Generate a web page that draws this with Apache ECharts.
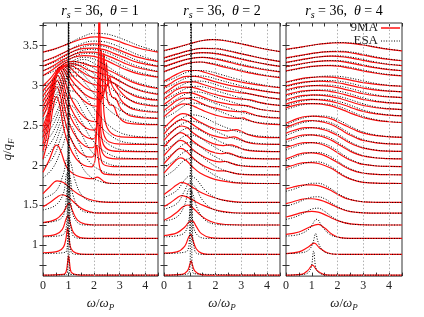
<!DOCTYPE html>
<html><head><meta charset="utf-8">
<script src="https://cdn.jsdelivr.net/npm/echarts@6/dist/echarts.min.js"></script>
<style>html,body{margin:0;padding:0;background:#fff}#c{width:424px;height:317px}</style>
</head><body><div id="c"></div>
<script>
// q/qF baselines (one spectrum per q)
const Q = [0.627,0.887,1.086,1.254,1.402,1.536,1.773,1.881,1.983,2.080,2.172,2.261,2.346,2.508,2.585,2.660,2.733,2.804,2.873,2.941,3.072,3.135,3.197,3.258,3.376];
// shared omega grid for curves given as plain value lists
const GX = [0,0.25,0.5,0.75,1,1.25,1.5,1.75,2,2.25,2.5,2.75,3,3.5,4,4.5];
const THETA = ['1','2','4'];
const X_LABELS = [0,1,2,3,4];
const X_TICKS = [0,0.5,1,1.5,2,2.5,3,3.5,4,4.5];
const Y_LABELS = [1,1.5,2,2.5,3,3.5];
const Y_TICKS = [0.75,1,1.25,1.5,1.75,2,2.25,2.5,2.75,3,3.25,3.5,3.75];
const GRID_X = [2,3,4];

// ---------- panel 1 : theta = 1 ----------
const P1_9MA = [
[[0,0],[0.8,0.01],[0.9,0.04],[0.96,0.15],[1.0,0.24],[1.04,0.15],[1.1,0.04],[1.25,0.01],[1.5,0],[4.5,0]],
[[0,0.02],[0.6,0.04],[0.8,0.09],[0.9,0.2],[0.96,0.33],[1.02,0.2],[1.1,0.07],[1.3,0.015],[1.7,0],[4.5,0]],
[[0,0.03],[0.5,0.05],[0.75,0.11],[0.9,0.24],[0.98,0.29],[1.06,0.2],[1.2,0.07],[1.45,0.01],[1.8,0],[4.5,0]],
[[0,0.03],[0.5,0.07],[0.8,0.16],[0.95,0.25],[1.03,0.27],[1.15,0.18],[1.35,0.06],[1.65,0.01],[2,0],[4.5,0]],
[[0,0.08],[0.3,0.14],[0.55,0.2],[0.75,0.23],[0.95,0.21],[1.2,0.14],[1.5,0.06],[1.8,0.02],[2.2,0],[4.5,0]],
[[0,0.11],[0.25,0.19],[0.55,0.27],[0.8,0.25],[1.1,0.17],[1.4,0.1],[1.8,0.04],[2.2,0.01],[2.6,0],[4.5,0]],
[[0,0.14],[0.25,0.3],[0.45,0.46],[0.55,0.48],[0.7,0.4],[0.85,0.26],[1.0,0.17],[1.3,0.1],[1.7,0.065],[1.95,0.06],[2.12,0.08],[2.25,0.06],[2.4,0.02],[2.6,0.003],[3,0],[4.5,0]],
[[0,0.2],[0.2,0.45],[0.4,0.85],[0.52,0.98],[0.65,0.88],[0.8,0.6],[1.0,0.38],[1.3,0.2],[1.6,0.12],[1.9,0.1],[2.02,0.16],[2.1,0.37],[2.17,0.2],[2.25,0.06],[2.4,0.01],[2.8,0],[4.5,0]],
[[0,0.2],[0.2,0.47],[0.4,0.88],[0.54,1.0],[0.67,0.9],[0.82,0.63],[1.02,0.4],[1.3,0.23],[1.6,0.14],[1.9,0.12],[2.04,0.2],[2.12,0.72],[2.19,0.3],[2.28,0.08],[2.45,0.015],[2.9,0],[4.5,0]],
[[0,0.19],[0.2,0.45],[0.42,0.86],[0.56,0.98],[0.7,0.88],[0.85,0.64],[1.05,0.42],[1.35,0.25],[1.65,0.16],[1.93,0.14],[2.07,0.24],[2.14,0.95],[2.21,0.35],[2.3,0.1],[2.5,0.02],[3,0],[4.5,0]],
[[0,0.18],[0.2,0.42],[0.44,0.83],[0.58,0.95],[0.72,0.86],[0.88,0.64],[1.08,0.43],[1.38,0.27],[1.7,0.18],[1.97,0.16],[2.1,0.28],[2.17,1.2],[2.24,0.4],[2.33,0.12],[2.55,0.025],[3,0.003],[4.5,0]],
[[0,0.16],[0.2,0.38],[0.46,0.8],[0.6,0.92],[0.75,0.84],[0.9,0.64],[1.1,0.45],[1.4,0.29],[1.72,0.2],[2.0,0.18],[2.13,0.32],[2.2,2.2],[2.27,0.45],[2.37,0.14],[2.6,0.03],[3.1,0.004],[4.5,0]],
[[0,0.14],[0.22,0.35],[0.48,0.76],[0.63,0.88],[0.78,0.8],[0.95,0.62],[1.15,0.46],[1.45,0.31],[1.77,0.22],[2.05,0.2],[2.2,0.34],[2.28,1.1],[2.36,0.45],[2.46,0.17],[2.7,0.05],[3.2,0.006],[4.5,0]],
[[0,0.1],[0.25,0.3],[0.5,0.62],[0.68,0.72],[0.85,0.66],[1.05,0.52],[1.3,0.4],[1.6,0.3],[1.9,0.24],[2.15,0.23],[2.3,0.36],[2.38,0.9],[2.46,0.45],[2.6,0.25],[2.75,0.24],[2.95,0.1],[3.3,0.02],[4.5,0]],
[[0,0.09],[0.25,0.26],[0.5,0.54],[0.72,0.65],[0.9,0.6],[1.1,0.49],[1.35,0.39],[1.65,0.3],[1.95,0.25],[2.25,0.24],[2.4,0.34],[2.48,0.7],[2.56,0.42],[2.7,0.27],[2.85,0.25],[3.05,0.12],[3.45,0.03],[4.5,0.002]],
[[0,0.08],[0.25,0.23],[0.5,0.47],[0.76,0.58],[0.95,0.55],[1.15,0.46],[1.4,0.38],[1.7,0.3],[2.0,0.26],[2.3,0.25],[2.5,0.33],[2.6,0.45],[2.7,0.34],[2.9,0.24],[3.15,0.12],[3.6,0.035],[4.5,0.004]],
[[0,0.07],[0.25,0.2],[0.5,0.4],[0.8,0.51],[1.0,0.5],[1.25,0.43],[1.5,0.36],[1.8,0.3],[2.1,0.27],[2.4,0.26],[2.62,0.3],[2.75,0.3],[2.95,0.22],[3.25,0.12],[3.7,0.04],[4.5,0.006]],
[[0,0.065],[0.3,0.2],[0.6,0.36],[0.88,0.44],[1.1,0.44],[1.4,0.39],[1.7,0.33],[2.0,0.29],[2.3,0.27],[2.6,0.25],[2.9,0.2],[3.25,0.12],[3.7,0.05],[4.5,0.01]],
[[0,0.06],[0.3,0.17],[0.6,0.31],[0.92,0.39],[1.15,0.4],[1.45,0.37],[1.75,0.32],[2.05,0.29],[2.35,0.27],[2.65,0.24],[3.0,0.18],[3.4,0.11],[3.9,0.05],[4.5,0.015]],
[[0,0.055],[0.3,0.15],[0.6,0.27],[0.95,0.35],[1.2,0.36],[1.5,0.34],[1.8,0.31],[2.1,0.29],[2.4,0.27],[2.7,0.23],[3.05,0.17],[3.5,0.1],[4.0,0.05],[4.5,0.02]],
[[0,0.05],[0.4,0.13],[0.8,0.22],[1.2,0.28],[1.6,0.3],[2.0,0.29],[2.4,0.25],[2.8,0.19],[3.2,0.13],[3.7,0.075],[4.5,0.03]],
[[0,0.045],[0.4,0.11],[0.8,0.19],[1.2,0.25],[1.6,0.28],[2.0,0.28],[2.4,0.25],[2.8,0.2],[3.2,0.14],[3.7,0.085],[4.5,0.035]],
[[0,0.045],[0.4,0.1],[0.8,0.17],[1.2,0.23],[1.6,0.265],[2.0,0.27],[2.4,0.25],[2.8,0.2],[3.2,0.15],[3.7,0.09],[4.5,0.04]],
[[0,0.04],[0.4,0.09],[0.8,0.15],[1.2,0.21],[1.6,0.25],[2.0,0.26],[2.4,0.245],[2.8,0.205],[3.2,0.155],[3.7,0.095],[4.5,0.04]],
[[0,0.04],[0.4,0.075],[0.8,0.12],[1.2,0.17],[1.6,0.21],[2.05,0.23],[2.5,0.215],[2.9,0.18],[3.3,0.135],[3.8,0.085],[4.5,0.04]]
];
const P1_ESA = [
[[0,0],[0.94,0.01],[0.98,0.3],[1.0,4],[1.02,0.3],[1.06,0.01],[4.5,0]],
[[0,0.01],[0.9,0.03],[0.97,0.35],[1.0,4],[1.03,0.35],[1.1,0.03],[1.4,0],[4.5,0]],
[[0,0.02],[0.8,0.05],[0.95,0.4],[1.0,3],[1.05,0.4],[1.15,0.05],[1.5,0],[4.5,0]],
[[0,0.03],[0.7,0.08],[0.9,0.3],[0.98,0.8],[1.04,0.6],[1.12,0.2],[1.35,0.03],[1.7,0],[4.5,0]],
[[0,0.04],[0.5,0.1],[0.8,0.25],[0.95,0.5],[1.04,0.48],[1.18,0.22],[1.45,0.05],[1.9,0.005],[4.5,0]],
[[0,0.05],[0.5,0.14],[0.8,0.36],[0.96,0.55],[1.08,0.5],[1.25,0.28],[1.55,0.08],[2.0,0.01],[4.5,0]],
[[0,0.07],[0.4,0.2],[0.75,0.45],[0.95,0.6],[1.12,0.55],[1.35,0.34],[1.7,0.13],[2.2,0.03],[2.8,0],[4.5,0]],
[[0,0.08],[0.4,0.22],[0.75,0.5],[0.97,0.64],[1.15,0.6],[1.4,0.4],[1.8,0.17],[2.3,0.05],[2.9,0.005],[4.5,0]],
[[0,0.09],[0.4,0.24],[0.75,0.52],[0.98,0.66],[1.18,0.63],[1.45,0.45],[1.85,0.21],[2.4,0.06],[3.0,0.008],[4.5,0]],
[[0,0.09],[0.4,0.25],[0.78,0.54],[1.0,0.67],[1.2,0.65],[1.5,0.48],[1.9,0.25],[2.5,0.075],[3.1,0.012],[4.5,0]],
[[0,0.09],[0.4,0.25],[0.8,0.55],[1.02,0.67],[1.23,0.66],[1.55,0.5],[2.0,0.27],[2.6,0.085],[3.2,0.016],[4.5,0]],
[[0,0.09],[0.4,0.25],[0.8,0.55],[1.04,0.67],[1.26,0.66],[1.6,0.52],[2.05,0.3],[2.7,0.1],[3.3,0.022],[4.5,0.001]],
[[0,0.08],[0.4,0.24],[0.82,0.54],[1.06,0.66],[1.3,0.65],[1.65,0.52],[2.1,0.32],[2.75,0.11],[3.4,0.028],[4.5,0.002]],
[[0,0.07],[0.4,0.21],[0.85,0.5],[1.1,0.61],[1.35,0.61],[1.7,0.5],[2.15,0.33],[2.8,0.13],[3.5,0.035],[4.5,0.004]],
[[0,0.065],[0.4,0.2],[0.87,0.47],[1.13,0.58],[1.4,0.58],[1.75,0.49],[2.2,0.33],[2.85,0.14],[3.55,0.04],[4.5,0.006]],
[[0,0.06],[0.4,0.18],[0.9,0.44],[1.16,0.545],[1.44,0.55],[1.8,0.47],[2.25,0.33],[2.9,0.15],[3.6,0.05],[4.5,0.009]],
[[0,0.06],[0.4,0.17],[0.92,0.41],[1.2,0.51],[1.5,0.52],[1.85,0.45],[2.3,0.33],[2.95,0.16],[3.65,0.058],[4.5,0.012]],
[[0,0.055],[0.4,0.15],[0.95,0.38],[1.25,0.47],[1.55,0.48],[1.9,0.43],[2.35,0.32],[3.0,0.17],[3.7,0.066],[4.5,0.016]],
[[0,0.05],[0.4,0.135],[0.97,0.35],[1.3,0.43],[1.6,0.45],[1.95,0.41],[2.4,0.32],[3.05,0.175],[3.75,0.075],[4.5,0.022]],
[[0,0.05],[0.4,0.125],[1.0,0.32],[1.35,0.395],[1.65,0.41],[2.0,0.385],[2.45,0.31],[3.1,0.18],[3.8,0.083],[4.5,0.028]],
[[0,0.05],[0.5,0.12],[1.0,0.24],[1.4,0.31],[1.8,0.33],[2.2,0.31],[2.6,0.255],[3.1,0.175],[3.6,0.105],[4.5,0.035]],
[[0,0.05],[0.5,0.11],[1.0,0.215],[1.45,0.29],[1.85,0.315],[2.25,0.3],[2.65,0.255],[3.15,0.18],[3.65,0.11],[4.5,0.04]],
[[0,0.045],[0.5,0.1],[1.0,0.195],[1.5,0.275],[1.9,0.305],[2.3,0.295],[2.7,0.255],[3.2,0.185],[3.7,0.115],[4.5,0.045]],
[[0,0.045],[0.5,0.095],[1.0,0.18],[1.5,0.26],[1.95,0.295],[2.35,0.29],[2.75,0.255],[3.25,0.19],[3.75,0.12],[4.5,0.048]],
[[0,0.04],[0.5,0.08],[1.0,0.15],[1.5,0.225],[2.0,0.275],[2.4,0.27],[2.8,0.24],[3.3,0.18],[3.8,0.115],[4.5,0.05]]
];

// ---------- panel 2 : theta = 2 ----------
const P2_9MA = [
[[0,0],[0.7,0.01],[0.9,0.05],[1.0,0.13],[1.05,0.18],[1.1,0.13],[1.2,0.05],[1.4,0.01],[1.7,0],[4.5,0]],
[[0,0.015],[0.5,0.03],[0.8,0.1],[0.95,0.21],[1.04,0.25],[1.12,0.18],[1.25,0.07],[1.45,0.015],[1.7,0],[4.5,0]],
[[0,0.036],[0.5,0.07],[0.8,0.14],[0.98,0.21],[1.1,0.22],[1.25,0.15],[1.45,0.06],[1.8,0.01],[2.2,0],[4.5,0]],
[[0,0.06],[0.25,0.1],[0.5,0.16],[0.75,0.23],[0.92,0.25],[1.1,0.22],[1.35,0.14],[1.65,0.07],[2.0,0.025],[2.4,0.006],[3,0],[4.5,0]],
[[0,0.084],[0.25,0.13],[0.5,0.19],[0.68,0.22],[0.9,0.2],[1.2,0.15],[1.5,0.1],[1.85,0.055],[2.25,0.022],[2.7,0.005],[3.2,0],[4.5,0]],
[[0,0.1],[0.25,0.16],[0.5,0.22],[0.68,0.25],[0.9,0.23],[1.2,0.17],[1.5,0.115],[1.9,0.065],[2.3,0.03],[2.8,0.008],[3.3,0],[4.5,0]],
[[0,0.13],[0.25,0.22],[0.5,0.3],[0.65,0.32],[0.85,0.29],[1.1,0.21],[1.4,0.13],[1.8,0.07],[2.2,0.035],[2.6,0.015],[3,0.004],[3.5,0],[4.5,0]],
[[0,0.14],[0.25,0.23],[0.5,0.31],[0.65,0.33],[0.85,0.3],[1.1,0.22],[1.4,0.14],[1.8,0.075],[2.1,0.05],[2.35,0.05],[2.55,0.035],[2.9,0.01],[3.4,0],[4.5,0]],
[[0,0.14],[0.25,0.23],[0.5,0.31],[0.65,0.33],[0.85,0.3],[1.1,0.22],[1.4,0.15],[1.8,0.085],[2.15,0.06],[2.4,0.065],[2.6,0.045],[2.9,0.015],[3.4,0.002],[4.5,0]],
[[0,0.15],[0.25,0.24],[0.5,0.31],[0.65,0.33],[0.85,0.3],[1.1,0.23],[1.4,0.16],[1.8,0.095],[2.2,0.065],[2.45,0.075],[2.65,0.06],[2.95,0.02],[3.4,0.003],[4.5,0]],
[[0,0.14],[0.25,0.23],[0.5,0.3],[0.68,0.32],[0.9,0.3],[1.15,0.23],[1.5,0.16],[1.9,0.1],[2.3,0.075],[2.6,0.085],[2.8,0.065],[3.1,0.025],[3.5,0.005],[4.5,0]],
[[0,0.13],[0.25,0.22],[0.5,0.29],[0.7,0.31],[0.92,0.29],[1.2,0.23],[1.5,0.17],[1.9,0.11],[2.4,0.08],[2.7,0.095],[2.9,0.075],[3.2,0.03],[3.6,0.006],[4.5,0]],
[[0,0.12],[0.25,0.2],[0.5,0.27],[0.72,0.3],[0.95,0.285],[1.2,0.235],[1.5,0.18],[1.9,0.12],[2.45,0.085],[2.8,0.1],[3.0,0.08],[3.3,0.035],[3.7,0.008],[4.5,0]],
[[0,0.1],[0.25,0.17],[0.5,0.23],[0.75,0.26],[1.0,0.25],[1.3,0.21],[1.6,0.165],[2.0,0.12],[2.5,0.085],[2.85,0.08],[3.05,0.085],[3.25,0.06],[3.6,0.025],[4.0,0.008],[4.5,0.002]],
[[0,0.1],[0.25,0.165],[0.5,0.225],[0.78,0.255],[1.02,0.25],[1.3,0.215],[1.6,0.17],[2.0,0.13],[2.5,0.095],[2.9,0.085],[3.1,0.09],[3.3,0.07],[3.7,0.03],[4.1,0.012],[4.5,0.005]],
[[0,0.1],[0.25,0.16],[0.5,0.22],[0.8,0.25],[1.05,0.247],[1.35,0.215],[1.7,0.17],[2.1,0.13],[2.6,0.1],[3.0,0.09],[3.2,0.088],[3.45,0.065],[3.8,0.035],[4.5,0.01]],
[[0,0.1],[0.25,0.16],[0.5,0.215],[0.82,0.245],[1.1,0.243],[1.4,0.215],[1.75,0.175],[2.2,0.135],[2.7,0.105],[3.1,0.095],[3.35,0.085],[3.7,0.055],[4.1,0.03],[4.5,0.015]],
[[0,0.095],[0.25,0.15],[0.5,0.205],[0.85,0.24],[1.15,0.24],[1.5,0.21],[1.9,0.17],[2.4,0.13],[2.9,0.105],[3.3,0.09],[3.7,0.065],[4.1,0.04],[4.5,0.025]],
[[0,0.1],[0.25,0.15],[0.5,0.2],[0.88,0.24],[1.2,0.24],[1.55,0.215],[2.0,0.17],[2.5,0.13],[3.0,0.1],[3.5,0.075],[4.0,0.05],[4.5,0.03]],
[[0,0.11],[0.25,0.155],[0.5,0.2],[0.9,0.245],[1.25,0.245],[1.6,0.22],[2.0,0.18],[2.5,0.135],[3.0,0.1],[3.5,0.072],[4.0,0.048],[4.5,0.03]],
[[0,0.1],[0.5,0.16],[1.0,0.21],[1.4,0.22],[1.8,0.2],[2.3,0.16],[2.8,0.12],[3.3,0.085],[3.8,0.055],[4.5,0.025]],
[[0,0.1],[0.5,0.155],[1.0,0.2],[1.5,0.215],[1.9,0.2],[2.4,0.165],[2.9,0.125],[3.4,0.09],[3.9,0.06],[4.5,0.035]],
[[0,0.1],[0.5,0.15],[1.0,0.195],[1.5,0.212],[2.0,0.2],[2.5,0.168],[3.0,0.13],[3.5,0.095],[4.0,0.065],[4.5,0.04]],
[[0,0.085],[0.5,0.135],[1.0,0.18],[1.5,0.205],[2.0,0.2],[2.5,0.172],[3.0,0.135],[3.5,0.1],[4.0,0.068],[4.5,0.04]],
[[0,0.06],[0.5,0.1],[1.0,0.145],[1.5,0.185],[1.9,0.195],[2.3,0.185],[2.8,0.155],[3.3,0.12],[3.8,0.085],[4.5,0.045]]
];
const P2_ESA = [
[[0,0],[0.95,0.02],[1.02,0.3],[1.05,4],[1.08,0.3],[1.15,0.02],[4.5,0]],
[[0,0.01],[0.9,0.04],[1.0,0.4],[1.05,3],[1.1,0.4],[1.2,0.04],[1.5,0],[4.5,0]],
[[0,0.02],[0.7,0.05],[0.95,0.2],[1.05,0.6],[1.12,0.2],[1.3,0.04],[1.7,0],[4.5,0]],
[[0,0.05],[0.5,0.1],[0.8,0.25],[0.98,0.45],[1.1,0.4],[1.3,0.2],[1.6,0.06],[2.0,0.01],[2.5,0],[4.5,0]],
[[0,0.05],[0.5,0.12],[0.8,0.28],[1.0,0.38],[1.2,0.33],[1.5,0.16],[1.9,0.05],[2.4,0.01],[3,0],[4.5,0]],
[[0,0.06],[0.5,0.15],[0.8,0.28],[1.0,0.33],[1.25,0.29],[1.6,0.15],[2.0,0.06],[2.5,0.015],[3,0],[4.5,0]],
[[0,0.08],[0.4,0.17],[0.75,0.28],[1.0,0.31],[1.3,0.27],[1.7,0.16],[2.1,0.08],[2.6,0.025],[3.1,0.005],[4.5,0]],
[[0,0.09],[0.4,0.18],[0.75,0.28],[1.0,0.305],[1.3,0.27],[1.7,0.17],[2.1,0.09],[2.6,0.03],[3.2,0.006],[4.5,0]],
[[0,0.09],[0.4,0.18],[0.75,0.28],[1.0,0.3],[1.3,0.27],[1.7,0.18],[2.2,0.09],[2.7,0.035],[3.3,0.008],[4.5,0]],
[[0,0.1],[0.4,0.19],[0.75,0.28],[1.0,0.3],[1.35,0.27],[1.8,0.18],[2.3,0.09],[2.8,0.04],[3.4,0.01],[4.5,0]],
[[0,0.1],[0.4,0.19],[0.78,0.28],[1.05,0.295],[1.4,0.265],[1.85,0.18],[2.35,0.1],[2.9,0.045],[3.5,0.012],[4.5,0]],
[[0,0.1],[0.4,0.185],[0.8,0.275],[1.08,0.29],[1.45,0.26],[1.9,0.185],[2.4,0.11],[3.0,0.05],[3.6,0.015],[4.5,0.002]],
[[0,0.09],[0.4,0.17],[0.82,0.265],[1.1,0.285],[1.5,0.26],[1.95,0.19],[2.5,0.115],[3.1,0.055],[3.7,0.02],[4.5,0.004]],
[[0,0.08],[0.4,0.15],[0.85,0.25],[1.1,0.27],[1.5,0.25],[2.0,0.19],[2.5,0.125],[3.1,0.065],[3.7,0.027],[4.5,0.007]],
[[0,0.08],[0.4,0.15],[0.85,0.245],[1.12,0.265],[1.5,0.248],[2.0,0.19],[2.55,0.13],[3.1,0.072],[3.7,0.032],[4.5,0.01]],
[[0,0.08],[0.4,0.15],[0.88,0.24],[1.15,0.26],[1.55,0.245],[2.05,0.19],[2.6,0.135],[3.2,0.078],[3.8,0.037],[4.5,0.013]],
[[0,0.085],[0.4,0.15],[0.9,0.235],[1.2,0.255],[1.6,0.242],[2.1,0.192],[2.65,0.14],[3.2,0.088],[3.8,0.045],[4.5,0.018]],
[[0,0.085],[0.4,0.145],[0.9,0.23],[1.25,0.25],[1.65,0.24],[2.15,0.192],[2.7,0.142],[3.3,0.092],[3.9,0.05],[4.5,0.024]],
[[0,0.09],[0.4,0.145],[0.9,0.225],[1.3,0.245],[1.7,0.235],[2.2,0.19],[2.75,0.142],[3.3,0.098],[3.9,0.058],[4.5,0.03]],
[[0,0.1],[0.4,0.15],[0.9,0.225],[1.3,0.245],[1.7,0.237],[2.2,0.195],[2.75,0.145],[3.3,0.1],[3.9,0.062],[4.5,0.034]],
[[0,0.095],[0.5,0.155],[1.0,0.205],[1.4,0.22],[1.85,0.205],[2.35,0.17],[2.85,0.13],[3.35,0.093],[3.85,0.06],[4.5,0.03]],
[[0,0.095],[0.5,0.15],[1.0,0.197],[1.5,0.215],[1.95,0.205],[2.45,0.172],[2.95,0.134],[3.45,0.097],[3.95,0.065],[4.5,0.038]],
[[0,0.095],[0.5,0.145],[1.0,0.19],[1.5,0.21],[2.0,0.205],[2.5,0.175],[3.0,0.138],[3.5,0.1],[4.0,0.068],[4.5,0.042]],
[[0,0.08],[0.5,0.13],[1.0,0.177],[1.5,0.205],[2.0,0.205],[2.5,0.178],[3.0,0.14],[3.5,0.104],[4.0,0.07],[4.5,0.042]],
[[0,0.055],[0.5,0.095],[1.0,0.142],[1.5,0.184],[1.9,0.198],[2.3,0.19],[2.8,0.16],[3.3,0.124],[3.8,0.088],[4.5,0.046]]
];

// ---------- panel 3 : theta = 4 ----------
const P3_9MA = [
[[0,0],[0.6,0.01],[0.85,0.06],[1.03,0.125],[1.2,0.06],[1.45,0.01],[1.7,0],[4.5,0]],
[[0,0.01],[0.5,0.03],[0.85,0.09],[1.1,0.14],[1.3,0.08],[1.6,0.02],[2,0],[4.5,0]],
[[0,0.05],[0.5,0.08],[0.9,0.14],[1.25,0.175],[1.5,0.13],[1.8,0.05],[2.1,0.01],[2.5,0],[4.5,0]],
[0.10,0.12,0.145,0.165,0.17,0.16,0.13,0.09,0.055,0.03,0.015,0.007,0.003,0,0,0],
[0.12,0.14,0.165,0.18,0.18,0.17,0.145,0.11,0.07,0.04,0.02,0.01,0.004,0,0,0],
[0.17,0.19,0.21,0.22,0.22,0.21,0.185,0.15,0.1,0.06,0.035,0.018,0.008,0.002,0,0],
[0.2,0.225,0.25,0.26,0.26,0.25,0.225,0.19,0.14,0.09,0.055,0.03,0.015,0.004,0.001,0],
[0.2,0.23,0.26,0.275,0.275,0.265,0.24,0.2,0.155,0.105,0.065,0.038,0.02,0.006,0.002,0],
[0.24,0.265,0.29,0.3,0.3,0.29,0.265,0.225,0.175,0.125,0.08,0.05,0.028,0.009,0.003,0.001],
[0.24,0.265,0.29,0.3,0.3,0.29,0.27,0.235,0.19,0.14,0.095,0.06,0.035,0.012,0.004,0.001],
[0.23,0.26,0.285,0.3,0.3,0.29,0.27,0.24,0.2,0.15,0.105,0.07,0.043,0.015,0.005,0.002],
[0.21,0.245,0.275,0.295,0.3,0.29,0.275,0.25,0.21,0.16,0.115,0.078,0.05,0.02,0.007,0.003],
[0.18,0.215,0.245,0.265,0.27,0.265,0.255,0.235,0.2,0.16,0.12,0.085,0.057,0.025,0.01,0.004],
[0.21,0.235,0.255,0.265,0.265,0.26,0.25,0.235,0.21,0.18,0.145,0.115,0.088,0.055,0.037,0.028],
[0.18,0.205,0.225,0.235,0.24,0.235,0.228,0.215,0.195,0.17,0.14,0.112,0.088,0.058,0.042,0.033],
[0.16,0.185,0.205,0.215,0.22,0.218,0.212,0.2,0.183,0.16,0.135,0.11,0.088,0.06,0.045,0.036],
[0.15,0.17,0.19,0.2,0.205,0.204,0.2,0.19,0.175,0.155,0.132,0.11,0.09,0.063,0.048,0.04],
[0.14,0.16,0.177,0.188,0.193,0.193,0.19,0.182,0.168,0.15,0.13,0.11,0.091,0.066,0.051,0.043],
[0.12,0.14,0.158,0.17,0.177,0.179,0.178,0.172,0.16,0.145,0.127,0.109,0.092,0.068,0.054,0.046],
[0.1,0.12,0.138,0.152,0.16,0.164,0.165,0.162,0.153,0.14,0.124,0.108,0.093,0.071,0.057,0.048],
[0.11,0.125,0.14,0.155,0.165,0.172,0.175,0.174,0.168,0.157,0.142,0.125,0.108,0.08,0.06,0.048],
[0.1,0.115,0.13,0.145,0.157,0.166,0.171,0.172,0.168,0.158,0.144,0.128,0.111,0.083,0.062,0.048],
[0.09,0.105,0.12,0.135,0.148,0.158,0.165,0.168,0.166,0.158,0.146,0.131,0.115,0.086,0.064,0.05],
[0.085,0.1,0.114,0.128,0.141,0.152,0.16,0.165,0.165,0.16,0.15,0.136,0.12,0.09,0.067,0.05],
[0.075,0.088,0.1,0.113,0.126,0.138,0.147,0.153,0.156,0.155,0.15,0.141,0.129,0.1,0.075,0.056]
];
const P3_ESA = [
[[0,0],[0.7,0.01],[0.95,0.07],[1.07,0.3],[1.18,0.07],[1.4,0.01],[1.7,0],[4.5,0]],
[[0,0.01],[0.6,0.02],[0.9,0.06],[1.05,0.15],[1.15,0.26],[1.25,0.15],[1.45,0.04],[1.8,0.005],[2.2,0],[4.5,0]],
[[0,0.03],[0.5,0.05],[0.9,0.12],[1.2,0.24],[1.4,0.15],[1.7,0.05],[2.1,0.01],[2.5,0],[4.5,0]],
[0.07,0.09,0.12,0.16,0.2,0.21,0.17,0.11,0.06,0.03,0.013,0.005,0.002,0,0,0],
[0.09,0.11,0.14,0.175,0.2,0.205,0.18,0.13,0.08,0.045,0.022,0.01,0.004,0,0,0],
[0.14,0.16,0.19,0.22,0.24,0.24,0.215,0.17,0.115,0.07,0.038,0.019,0.009,0.002,0,0],
[0.17,0.2,0.23,0.255,0.27,0.27,0.25,0.21,0.155,0.1,0.06,0.033,0.017,0.004,0.001,0],
[0.18,0.21,0.24,0.265,0.28,0.28,0.262,0.225,0.172,0.118,0.075,0.044,0.024,0.007,0.002,0],
[0.21,0.24,0.27,0.29,0.3,0.3,0.285,0.25,0.198,0.142,0.093,0.057,0.033,0.011,0.004,0.001],
[0.21,0.24,0.27,0.29,0.3,0.3,0.288,0.258,0.21,0.158,0.108,0.07,0.042,0.015,0.005,0.002],
[0.2,0.235,0.265,0.285,0.297,0.298,0.288,0.262,0.22,0.17,0.12,0.08,0.05,0.019,0.007,0.003],
[0.19,0.225,0.258,0.28,0.293,0.296,0.29,0.27,0.232,0.183,0.133,0.091,0.06,0.025,0.01,0.004],
[0.16,0.195,0.228,0.252,0.267,0.272,0.27,0.256,0.226,0.185,0.142,0.102,0.07,0.032,0.014,0.006],
[0.19,0.215,0.24,0.255,0.263,0.265,0.262,0.253,0.234,0.205,0.17,0.135,0.103,0.062,0.04,0.029],
[0.16,0.185,0.208,0.225,0.236,0.24,0.239,0.232,0.217,0.195,0.167,0.135,0.106,0.067,0.046,0.035],
[0.145,0.168,0.19,0.206,0.216,0.221,0.222,0.217,0.205,0.186,0.162,0.134,0.108,0.07,0.049,0.038],
[0.135,0.155,0.176,0.192,0.202,0.208,0.21,0.207,0.197,0.181,0.159,0.134,0.11,0.073,0.052,0.042],
[0.125,0.145,0.164,0.179,0.19,0.197,0.2,0.198,0.19,0.176,0.157,0.135,0.112,0.076,0.055,0.045],
[0.11,0.13,0.148,0.163,0.175,0.183,0.188,0.188,0.182,0.17,0.154,0.134,0.113,0.079,0.057,0.047],
[0.095,0.113,0.13,0.145,0.158,0.168,0.174,0.176,0.173,0.164,0.15,0.133,0.115,0.082,0.06,0.049],
[0.105,0.12,0.135,0.15,0.162,0.171,0.177,0.179,0.176,0.168,0.155,0.138,0.12,0.088,0.064,0.05],
[0.095,0.11,0.125,0.14,0.154,0.165,0.172,0.176,0.175,0.169,0.157,0.141,0.123,0.09,0.066,0.05],
[0.085,0.1,0.115,0.13,0.145,0.157,0.166,0.171,0.172,0.168,0.158,0.144,0.127,0.094,0.068,0.052],
[0.08,0.095,0.11,0.124,0.138,0.151,0.161,0.168,0.17,0.168,0.16,0.148,0.132,0.098,0.071,0.053],
[0.07,0.083,0.097,0.11,0.124,0.137,0.148,0.156,0.16,0.16,0.155,0.146,0.133,0.103,0.077,0.057]
];

const PANELS = [
  {theta: THETA[0], m9: P1_9MA, esa: P1_ESA},
  {theta: THETA[1], m9: P2_9MA, esa: P2_ESA},
  {theta: THETA[2], m9: P3_9MA, esa: P3_ESA}
];

const SERIF = 'Liberation Serif';
const GL = [42, 164, 286], GT = 23, GW = 116, GH = 263;
const YMIN = 0.615, YMAX = 3.78;

function pts(curve, q) {
  if (typeof curve[0] === 'number') return curve.map((s, j) => [GX[j], q + s]);
  return curve.map(p => [p[0], q + p[1]]);
}
function mathRich(fs) {
  return {
    i: {fontFamily: SERIF, fontStyle: 'italic', fontSize: fs, color: '#222', lineHeight: fs + 4, verticalAlign: 'middle'},
    n: {fontFamily: SERIF, fontSize: fs, color: '#222', lineHeight: fs + 4, verticalAlign: 'middle'},
    s: {fontFamily: SERIF, fontStyle: 'italic', fontSize: Math.round(fs * 0.7), color: '#222', lineHeight: fs + 4, verticalAlign: 'bottom'}
  };
}
const richAxis = mathRich(13), richTitle = mathRich(14);

const grid = [], xAxis = [], yAxis = [], series = [];
PANELS.forEach((p, k) => {
  grid.push({left: GL[k], top: GT, width: GW, height: GH, show: true, borderColor: '#333', borderWidth: 1, backgroundColor: 'transparent'});
  const tickStyle = {inside: true, length: 3.5, lineStyle: {color: '#333', width: 1}};
  xAxis.push({gridIndex: k, type: 'value', min: 0, max: 4.5, interval: 0.5, position: 'bottom',
    axisLine: {show: false}, splitLine: {show: false},
    axisTick: Object.assign({customValues: X_TICKS}, tickStyle),
    axisLabel: {customValues: X_LABELS, fontFamily: SERIF, fontSize: 12, color: '#222', margin: 4,
      formatter: v => (Math.abs(v - Math.round(v)) < 1e-6 ? String(Math.round(v)) : '')},
    name: '{i|ω}{n|/}{i|ω}{s|P}', nameLocation: 'middle', nameGap: 18,
    nameTextStyle: {rich: richAxis}});
  xAxis.push({gridIndex: k, type: 'value', min: 0, max: 4.5, interval: 0.5, position: 'top',
    axisLine: {show: false}, splitLine: {show: false},
    axisTick: Object.assign({customValues: X_TICKS}, tickStyle), axisLabel: {show: false}});
  yAxis.push({gridIndex: k, type: 'value', min: YMIN, max: YMAX, position: 'left',
    axisLine: {show: false}, splitLine: {show: false},
    axisTick: Object.assign({customValues: Y_TICKS}, tickStyle),
    axisLabel: k === 0 ? {customValues: Y_LABELS, fontFamily: SERIF, fontSize: 12, color: '#222', margin: 5} : {show: false},
    name: k === 0 ? '{i|q}{n|/}{i|q}{s|F}' : '', nameLocation: 'middle', nameGap: 27,
    nameTextStyle: {rich: richAxis}});
  yAxis.push({gridIndex: k, type: 'value', min: YMIN, max: YMAX, position: 'right',
    axisLine: {show: false}, splitLine: {show: false},
    axisTick: Object.assign({customValues: Y_TICKS}, tickStyle), axisLabel: {show: false}});

  // dotted grid lines
  series.push({type: 'line', xAxisIndex: 2 * k, yAxisIndex: 2 * k, data: [], silent: true, z: 1,
    markLine: {silent: true, symbol: 'none', label: {show: false}, animation: false,
      lineStyle: {color: '#b0b0b0', type: [1.5, 2], width: 1},
      data: GRID_X.map(v => ({xAxis: v}))}});
  p.m9.forEach((c, i) => series.push({type: 'line', xAxisIndex: 2 * k, yAxisIndex: 2 * k,
    data: pts(c, Q[i]), smooth: 0.4, symbol: 'none', silent: true, clip: true, z: 2,
    lineStyle: {color: '#ff1010', width: 1.2}}));
  p.esa.forEach((c, i) => series.push({type: 'line', xAxisIndex: 2 * k, yAxisIndex: 2 * k,
    data: pts(c, Q[i]), smooth: 0.4, symbol: 'none', silent: true, clip: true, z: 3,
    lineStyle: {color: '#000', width: 1, type: [1, 1.6]}}));
});

const graphic = PANELS.map((p, k) => ({type: 'text', x: GL[k] + GW / 2, y: 11,
  style: {text: '{i|r}{s|s}{n| = 36,  }{i|θ}{n| = ' + p.theta + '}', align: 'center', verticalAlign: 'middle', rich: richTitle}}));
graphic.push(
  {type: 'text', x: 378, y: 28, style: {text: '9MA', font: '13px "Liberation Serif"', fill: '#222', align: 'right', verticalAlign: 'middle'}},
  {type: 'line', shape: {x1: 381, y1: 28, x2: 400, y2: 28}, style: {stroke: '#ff1010', lineWidth: 1.5}},
  {type: 'text', x: 378, y: 41, style: {text: 'ESA', font: '13px "Liberation Serif"', fill: '#222', align: 'right', verticalAlign: 'middle'}},
  {type: 'line', shape: {x1: 381, y1: 41, x2: 400, y2: 41}, style: {stroke: '#000', lineWidth: 1, lineDash: [1, 1.6]}}
);

const chart = echarts.init(document.getElementById('c'), null, {renderer: 'canvas'});
chart.setOption({animation: false, backgroundColor: '#fff', grid, xAxis, yAxis, series, graphic});
</script></body></html>
